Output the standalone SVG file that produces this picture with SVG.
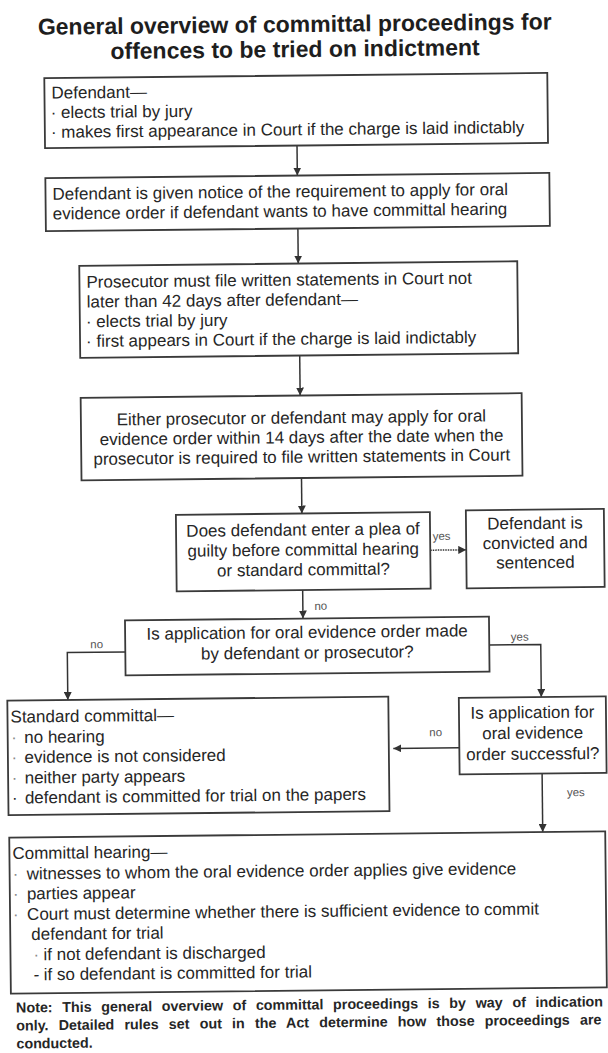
<svg xmlns="http://www.w3.org/2000/svg" width="608" height="1053" viewBox="0 0 608 1053">
<defs>
<style>
.bg{fill:#fff}
.box{fill:#fff;stroke:#3a3a3a;stroke-width:1.8}
.t{font-family:"Liberation Sans",Arial,sans-serif;font-size:17px;fill:#262626}
.c{text-anchor:middle}
.f{fill:#8a8a8a}
.title{font-family:"Liberation Sans",Arial,sans-serif;font-size:23px;font-weight:bold;fill:#1e1e1e;text-anchor:middle}
.lbl{font-family:"Liberation Sans",Arial,sans-serif;font-size:11.5px;fill:#555;text-anchor:middle}
.note{font-family:"Liberation Sans",Arial,sans-serif;font-size:14.3px;font-weight:bold;fill:#262626}
.conn{fill:none;stroke:#333;stroke-width:1.5}
.dot{stroke-dasharray:1.5 1}
</style>
<marker id="ah" viewBox="0 0 10 10" refX="10" refY="5" markerWidth="8" markerHeight="8" markerUnits="userSpaceOnUse" orient="auto">
<path d="M0,0 L10,5 L0,10 z" fill="#333"/>
</marker>
</defs>
<rect class="bg" x="0" y="0" width="608" height="1053"/>
<g transform="rotate(-0.6 304 526)">
<g id="title">
<text class="title" x="300" y="32">General overview of committal proceedings for</text>
<text class="title" x="300" y="57">offences to be tried on indictment</text>
</g>
<g id="connectors">
<line class="conn" x1="301" y1="145.5" x2="301" y2="175.5" marker-end="url(#ah)"/>
<line class="conn" x1="301" y1="228.5" x2="301" y2="263.5" marker-end="url(#ah)"/>
<line class="conn" x1="301.5" y1="355.5" x2="301.5" y2="395.5" marker-end="url(#ah)"/>
<line class="conn" x1="302" y1="478" x2="302" y2="513.5" marker-end="url(#ah)"/>
<line class="conn dot" x1="430" y1="551.5" x2="466" y2="551.5" marker-end="url(#ah)"/>
<text class="lbl" x="441.5" y="541.5">yes</text>
<line class="conn" x1="302" y1="590" x2="302" y2="618.5" marker-end="url(#ah)"/>
<text class="lbl" x="320" y="610">no</text>
<polyline class="conn" points="124,650 66,650 66,697.5" marker-end="url(#ah)"/>
<text class="lbl" x="95.5" y="646">no</text>
<polyline class="conn" points="488,647 539.5,647 539.5,699.5" marker-end="url(#ah)"/>
<text class="lbl" x="518.5" y="643">yes</text>
<line class="conn" x1="457" y1="749.3" x2="391" y2="749.3" marker-end="url(#ah)"/>
<text class="lbl" x="433.5" y="737.5">no</text>
<line class="conn" x1="539.5" y1="776" x2="539.5" y2="834.5" marker-end="url(#ah)"/>
<text class="lbl" x="573" y="799">yes</text>
</g>
<g id="n1">
<rect class="box" x="49" y="75.5" width="503" height="70"/>
<text class="t" x="56" y="96">Defendant—</text>
<text class="t" x="55" y="115.6">· elects trial by jury</text>
<text class="t" x="55" y="135.2">· makes first appearance in Court if the charge is laid indictably</text>
</g>
<g id="n2">
<rect class="box" x="49" y="175.5" width="504" height="53"/>
<text class="t" x="56" y="197.2">Defendant is given notice of the requirement to apply for oral</text>
<text class="t" x="56" y="216.8">evidence order if defendant wants to have committal hearing</text>
</g>
<g id="n3">
<rect class="box" x="82" y="263.5" width="438" height="92"/>
<text class="t" x="89" y="285.5">Prosecutor must file written statements in Court not</text>
<text class="t" x="89" y="305.3">later than 42 days after defendant—</text>
<text class="t" x="88" y="325">· elects trial by jury</text>
<text class="t" x="88" y="344.7">· first appears in Court if the charge is laid indictably</text>
</g>
<g id="n4">
<rect class="box" x="82" y="395.5" width="441" height="82.5"/>
<text class="t c" x="302.5" y="423.4">Either prosecutor or defendant may apply for oral</text>
<text class="t c" x="302.5" y="443">evidence order within 14 days after the date when the</text>
<text class="t c" x="302.5" y="462.6">prosecutor is required to file written statements in Court</text>
</g>
<g id="n5">
<rect class="box" x="176" y="513.5" width="254" height="76.5"/>
<text class="t c" x="303" y="535.5">Does defendant enter a plea of</text>
<text class="t c" x="303" y="555.5">guilty before committal hearing</text>
<text class="t c" x="303" y="575.5">or standard committal?</text>
</g>
<g id="n6">
<rect class="box" x="466" y="512" width="138" height="78"/>
<text class="t c" x="535" y="531.4">Defendant is</text>
<text class="t c" x="535" y="551">convicted and</text>
<text class="t c" x="535" y="570.6">sentenced</text>
</g>
<g id="n7">
<rect class="box" x="124" y="618.5" width="364" height="55"/>
<text class="t c" x="306" y="638">Is application for oral evidence order made</text>
<text class="t c" x="306" y="658.5">by defendant or prosecutor?</text>
</g>
<g id="n8">
<rect class="box" x="5.5" y="697.5" width="381" height="114.5"/>
<text class="t" x="8.5" y="719.5">Standard committal—</text>
<text class="t" x="9" y="740"><tspan class="f">·</tspan><tspan x="22">no hearing</tspan></text>
<text class="t" x="9" y="760"><tspan class="f">·</tspan><tspan x="22">evidence is not considered</tspan></text>
<text class="t" x="9" y="780.5"><tspan class="f">·</tspan><tspan x="22">neither party appears</tspan></text>
<text class="t" x="9" y="800.5">·<tspan x="22">defendant is committed for trial on the papers</tspan></text>
</g>
<g id="n9">
<rect class="box" x="457" y="699.5" width="147" height="76.5"/>
<text class="t c" x="530.5" y="720.5">Is application for</text>
<text class="t c" x="530.5" y="741">oral evidence</text>
<text class="t c" x="530.5" y="762">order successful?</text>
</g>
<g id="n10">
<rect class="box" x="6" y="834.5" width="596" height="156"/>
<text class="t" x="9" y="856">Committal hearing—</text>
<text class="t" x="9" y="876.5"><tspan class="f">·</tspan><tspan x="23">witnesses to whom the oral evidence order applies give evidence</tspan></text>
<text class="t" x="9" y="896.5"><tspan class="f">·</tspan><tspan x="23">parties appear</tspan></text>
<text class="t" x="9" y="917"><tspan class="f">·</tspan><tspan x="23">Court must determine whether there is sufficient evidence to commit</tspan></text>
<text class="t" x="27" y="937">defendant for trial</text>
<text class="t" x="29" y="957.5"><tspan class="f">·</tspan><tspan x="39">if not defendant is discharged</tspan></text>
<text class="t" x="29" y="977.5">-<tspan x="39">if so defendant is committed for trial</tspan></text>
</g>
<g id="note">
<text class="note" x="11" y="1009.5" word-spacing="5.7">Note: This general overview of committal proceedings is by way of indication</text>
<text class="note" x="11" y="1027.5" word-spacing="6.2">only. Detailed rules set out in the Act determine how those proceedings are</text>
<text class="note" x="11" y="1045.5">conducted.</text>
</g>
</g>
</svg>
